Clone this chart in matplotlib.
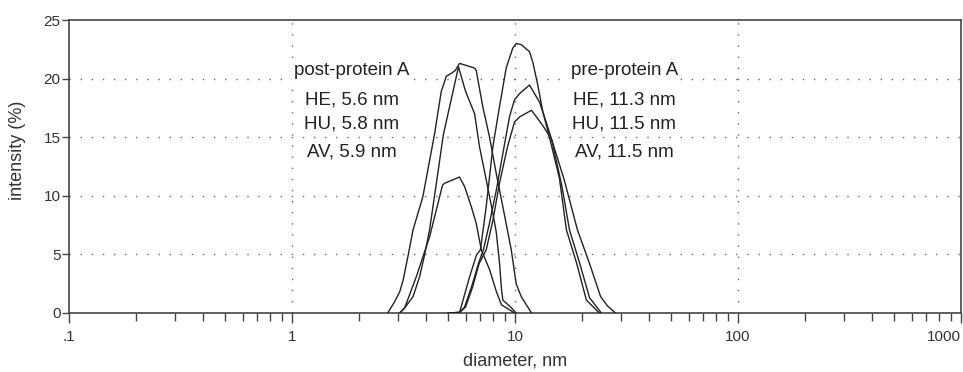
import matplotlib.pyplot as plt
from matplotlib.ticker import FixedLocator, LogLocator, NullFormatter

plt.rcParams['font.family'] = ['Liberation Sans', 'DejaVu Sans']

# post-protein A curves (diameter nm, intensity %)
post1_d = [2.685, 2.885, 3.04, 3.15, 3.32, 3.49, 3.86, 4.36, 4.67, 4.92, 5.18, 5.40, 5.64,
           6.59, 6.70, 7.17, 7.69, 8.24, 8.82, 9.62, 10.12, 10.66, 11.86]
post1_y = [0, 0.96, 1.8, 2.8, 4.95, 7.1, 9.9, 15.3, 18.9, 20.2, 20.45, 20.7, 21.3,
           20.9, 20.7, 17.6, 15.0, 11.9, 9.07, 5.4, 2.5, 1.4, 0]

post2_d = [3.04, 3.20, 3.49, 3.735, 3.93, 4.14, 4.44, 4.77, 5.58, 5.94, 6.05, 6.59, 6.93,
           7.43, 7.96, 8.24, 8.52, 8.70, 8.82, 9.45, 10.12]
post2_y = [0, 0.43, 1.4, 3.1, 4.95, 7.1, 11.07, 15.2, 21.0, 19.2, 18.75, 17.0, 14.2,
           11.35, 8.5, 6.9, 4.3, 2.0, 1.1, 0.6, 0]

post3_d = [3.04, 3.20, 3.61, 4.14, 4.73, 4.83, 5.64, 5.94, 6.37, 6.70, 7.06, 7.69, 8.26,
           8.70, 9.95]
post3_y = [0, 0.43, 3.1, 6.5, 10.9, 11.07, 11.6, 10.8, 9.07, 7.65, 5.4, 3.7, 1.8, 0.7, 0]

# pre-protein A curves
pre1_d = [5.0, 5.64, 5.82, 6.26, 6.72, 7.0, 7.43, 7.96, 8.52, 9.13, 9.77, 10.13, 10.66,
          11.61, 12.02, 12.65, 13.32, 14.27, 15.82, 17.0, 18.9, 20.9, 23.9]
pre1_y = [0, 0.05, 0.96, 3.1, 4.95, 5.4, 9.1, 14.2, 17.6, 20.9, 22.6, 23.0, 22.9,
          22.3, 21.4, 19.45, 17.2, 15.0, 11.5, 7.1, 4.24, 1.1, 0]

pre2_d = [5.0, 5.64, 5.94, 6.39, 6.86, 7.22, 7.69, 8.25, 8.82, 9.45, 9.95, 10.52, 11.61,
          12.88, 13.79, 14.6, 16.2, 17.55, 19.5, 21.6, 24.4]
pre2_y = [0, 0.05, 0.5, 2.25, 4.24, 5.4, 7.7, 10.5, 13.6, 16.75, 18.2, 18.75, 19.45,
          18.0, 16.3, 14.8, 10.9, 7.1, 4.24, 1.3, 0]

pre3_d = [5.0, 5.64, 6.0, 6.45, 6.9, 7.43, 7.96, 8.52, 9.26, 9.95, 10.52, 11.86, 13.32,
          14.6, 16.6, 19.05, 21.57, 24.2, 26.0, 28.2]
pre3_y = [0, 0.05, 0.5, 2.2, 4.2, 5.4, 7.9, 11.07, 14.2, 16.3, 16.75, 17.3, 16.0,
          14.8, 11.4, 7.1, 4.24, 1.4, 0.6, 0]

post_labels = ['post-protein A', 'HE, 5.6 nm', 'HU, 5.8 nm', 'AV, 5.9 nm']
pre_labels = ['pre-protein A', 'HE, 11.3 nm', 'HU, 11.5 nm', 'AV, 11.5 nm']
label_y = [20.7, 18.2, 16.1, 13.7]

x_ticks = [0.1, 1, 10, 100, 1000]
x_ticklabels = ['.1', '1', '10', '100', '1000']
y_ticks = [0, 5, 10, 15, 20, 25]

W, H = 963, 372
fig = plt.figure(figsize=(W / 100, H / 100), dpi=100)
ax = fig.add_axes([69 / W, 1 - 313 / H, (961 - 69) / W, (313 - 20) / H])

line_color = '#222222'
for d, y in [(post1_d, post1_y), (post2_d, post2_y), (post3_d, post3_y),
             (pre1_d, pre1_y), (pre2_d, pre2_y), (pre3_d, pre3_y)]:
    ax.plot(d, y, color=line_color, linewidth=1.0, zorder=3)

ax.set_xscale('log')
ax.set_xlim(0.1, 1000)
ax.set_ylim(0, 25)

ax.xaxis.set_major_locator(FixedLocator(x_ticks))
ax.set_xticklabels(x_ticklabels)
ax.xaxis.set_minor_locator(LogLocator(base=10, subs=range(2, 10), numticks=20))
ax.xaxis.set_minor_formatter(NullFormatter())
ax.set_yticks(y_ticks)

ax.tick_params(axis='both', which='both', direction='out', colors='#444444',
               labelcolor='#333333', labelsize=11, width=1.0)
ax.tick_params(axis='x', which='major', length=7, pad=5)
ax.tick_params(axis='x', which='minor', length=6)
ax.tick_params(axis='y', which='major', length=5, pad=1)
ax.get_xticklabels()[-1].set_horizontalalignment('right')

for s in ax.spines.values():
    s.set_color('#444444')
    s.set_linewidth(1.2)

for yv in [5, 10, 15, 20]:
    ax.axhline(yv, color='#666666', linestyle=(0, (1, 7)), linewidth=1.0, zorder=1)
for xv in [1, 10, 100]:
    ax.axvline(xv, color='#666666', linestyle=(0, (1, 7)), linewidth=1.0, zorder=1)

box = dict(facecolor='white', edgecolor='none', pad=1.5)
for txt, yv in zip(post_labels, label_y):
    ax.text(1.85, yv, txt, ha='center', va='center', fontsize=13.5, color='#222222',
            bbox=box, zorder=4)
for txt, yv in zip(pre_labels, label_y):
    ax.text(30.9, yv, txt, ha='center', va='center', fontsize=13.5, color='#222222',
            bbox=box, zorder=4)

fig.text(515 / W, 1 - 361 / H, 'diameter, nm', ha='center', va='center',
         fontsize=13, color='#333333')
fig.text(18 / W, 1 - 150 / H, 'intensity (%)', ha='center', va='center',
         rotation=90, fontsize=13, color='#333333')

fig.savefig('out.png', dpi=100)
